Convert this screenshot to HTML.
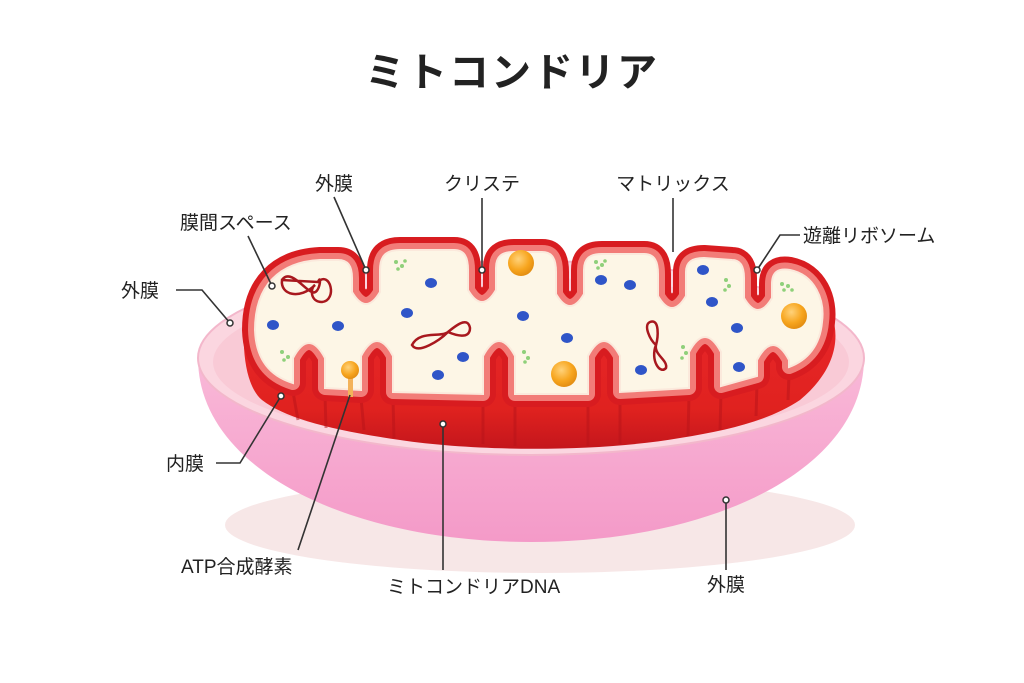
<!DOCTYPE html>
<html><head><meta charset="utf-8"><style>
html,body{margin:0;padding:0;background:#fff;}
svg{display:block;}
text{font-family:"Liberation Sans","Noto Sans CJK JP",sans-serif;fill:#222;}
</style></head><body>
<svg width="1024" height="683" viewBox="0 0 1024 683" xmlns="http://www.w3.org/2000/svg">
<defs>
<linearGradient id="dish" x1="0" y1="0" x2="0" y2="1">
<stop offset="0" stop-color="#f9b9d8"/><stop offset="1" stop-color="#f49ac8"/></linearGradient>
<linearGradient id="red" x1="0" y1="0" x2="0" y2="1">
<stop offset="0" stop-color="#e8262a"/><stop offset="0.7" stop-color="#e0221f"/><stop offset="1" stop-color="#c4161c"/></linearGradient>
<radialGradient id="orb" cx="0.4" cy="0.35" r="0.7">
<stop offset="0" stop-color="#ffd27a"/><stop offset="0.6" stop-color="#f7a51e"/><stop offset="1" stop-color="#e08a10"/></radialGradient>
<path id="m" d="M255,330 C255,285 280,262 320,260 L338,260 C348,260 352,266 352,278 L352,292 Q366,316 380,292 L380,270 C380,256 386,250 400,250 L454,250 C465,250 468,258 468,270 L468,290 Q482,314 496,290 L496,268 C496,256 502,252 514,252 L542,252 C553,252 556,260 556,272 L556,294 Q570,318 584,294 L584,270 C584,258 590,254 602,254 L644,254 C655,254 658,262 658,274 L658,296 Q672,320 686,296 L686,272 C686,262 692,258 704,258 L732,260 C741,260 744,268 744,278 L744,298 Q758,322 772,298 L772,284 C772,272 778,268 790,270 C815,275 825,300 822,322 C820,345 808,360 789,367 L789,360 Q773,330 757,360 L757,376 L721,386 L721,352 Q705,322 689,352 L689,388 L620,392 L620,356 Q604,326 588,356 L588,394 L515,394 L515,356 Q499,326 483,356 L483,394 L393,392 L393,356 Q377,326 361,356 L361,390 L325,388 L325,358 Q309,328 293,358 L293,383 C270,376 256,360 255,330 Z"/>
</defs>
<text x="512" y="86" text-anchor="middle" font-size="40" font-weight="bold" letter-spacing="2">ミトコンドリア</text>

<ellipse cx="540" cy="525" rx="315" ry="48" fill="#f7e7e7"/>
<path d="M198,358 C198,470 350,542 531,542 C712,542 864,470 864,358 Z" fill="url(#dish)"/>
<ellipse cx="531" cy="358" rx="333" ry="97" fill="#fbd6e0" stroke="#f3b7cb" stroke-width="2"/>
<ellipse cx="531" cy="362" rx="318" ry="84" fill="#f9cad6"/>

<path d="M244,320 L832,315 C842,345 830,375 800,400 C770,420 730,430 680,438 C600,452 480,452 400,440 C330,430 285,418 262,400 C248,388 242,360 244,320 Z" fill="url(#red)"/>
<g stroke="#b8141a" stroke-width="3" fill="none" opacity="0.5">
<path d="M293,392 L298,420"/><path d="M325,396 L326,428"/><path d="M361,398 L364,430"/><path d="M393,400 L394,438"/><path d="M483,402 L483,444"/><path d="M515,402 L515,446"/><path d="M588,402 L588,446"/><path d="M620,400 L620,444"/><path d="M689,396 L688,436"/><path d="M721,394 L720,430"/><path d="M757,384 L756,416"/><path d="M789,375 L788,400"/>
</g>

<use href="#m" fill="none" stroke="#d81c20" stroke-width="26" stroke-linejoin="round"/>
<use href="#m" fill="none" stroke="#f27c78" stroke-width="14" stroke-linejoin="round"/>
<use href="#m" fill="#fdf6e6" stroke="#fbe9dc" stroke-width="2"/>

<g fill="#2f55c8">
<ellipse cx="431" cy="283" rx="6" ry="5"/><ellipse cx="273" cy="325" rx="6" ry="5"/><ellipse cx="338" cy="326" rx="6" ry="5"/><ellipse cx="407" cy="313" rx="6" ry="5"/><ellipse cx="463" cy="357" rx="6" ry="5"/><ellipse cx="438" cy="375" rx="6" ry="5"/><ellipse cx="523" cy="316" rx="6" ry="5"/><ellipse cx="567" cy="338" rx="6" ry="5"/><ellipse cx="601" cy="280" rx="6" ry="5"/><ellipse cx="630" cy="285" rx="6" ry="5"/><ellipse cx="703" cy="270" rx="6" ry="5"/><ellipse cx="712" cy="302" rx="6" ry="5"/><ellipse cx="737" cy="328" rx="6" ry="5"/><ellipse cx="739" cy="367" rx="6" ry="5"/><ellipse cx="641" cy="370" rx="6" ry="5"/>
</g>
<circle cx="521" cy="263" r="13" fill="url(#orb)"/>
<circle cx="564" cy="374" r="13" fill="url(#orb)"/>
<circle cx="794" cy="316" r="13" fill="url(#orb)"/>
<rect x="348" y="375" width="5" height="22" fill="#f3b35a"/>
<circle cx="350" cy="370" r="9" fill="url(#orb)"/>
<g fill="none" stroke="#a8181e" stroke-width="2.5">
<path d="M282,280 C290,268 305,290 312,292 C320,296 322,272 318,282 M318,282 C330,270 338,300 322,302 C310,302 310,288 315,285 C300,300 280,295 282,280 Z"/>
<path d="M412,345 C420,330 440,338 448,332 C460,322 468,318 470,328 C470,340 455,335 448,332 C440,340 418,355 412,345 Z"/>
<path d="M650,322 C660,318 658,338 656,345 C654,355 668,360 666,368 C660,375 650,360 656,345 C650,340 643,325 650,322 Z"/>
</g>
<g fill="#8fd07a">
<circle cx="396" cy="262" r="2"/><circle cx="402" cy="266" r="2"/><circle cx="398" cy="269" r="1.8"/><circle cx="405" cy="261" r="1.8"/>
<circle cx="282" cy="352" r="2"/><circle cx="288" cy="357" r="2"/><circle cx="284" cy="360" r="1.8"/>
<circle cx="596" cy="262" r="2"/><circle cx="602" cy="265" r="2"/><circle cx="598" cy="268" r="1.8"/><circle cx="605" cy="261" r="1.8"/>
<circle cx="524" cy="352" r="2"/><circle cx="528" cy="358" r="2"/><circle cx="525" cy="362" r="1.8"/>
<circle cx="683" cy="347" r="2"/><circle cx="686" cy="353" r="2"/><circle cx="682" cy="358" r="1.8"/>
<circle cx="726" cy="280" r="2"/><circle cx="729" cy="286" r="2"/><circle cx="725" cy="290" r="1.8"/>
<circle cx="782" cy="284" r="2"/><circle cx="788" cy="286" r="2"/><circle cx="784" cy="290" r="1.8"/><circle cx="792" cy="290" r="1.8"/>
</g>

<g stroke="#333" stroke-width="1.6" fill="none">
<path d="M334,197 L366,270"/>
<path d="M482,198 L482,270"/>
<path d="M673,198 L673,252"/>
<path d="M800,235 L780,235 L757,270"/>
<path d="M248,236 L272,286"/>
<path d="M176,290 L202,290 L230,323"/>
<path d="M216,463 L240,463 L281,396"/>
<path d="M298,550 L350,395"/>
<path d="M443,424 L443,570"/>
<path d="M726,570 L726,500"/>
</g>
<g fill="#fff" stroke="#333" stroke-width="1.5">
<circle cx="366" cy="270" r="3"/><circle cx="482" cy="270" r="3"/><circle cx="757" cy="270" r="3"/><circle cx="272" cy="286" r="3"/><circle cx="230" cy="323" r="3"/><circle cx="281" cy="396" r="3"/><circle cx="443" cy="424" r="3"/><circle cx="726" cy="500" r="3"/>
</g>

<g font-size="19">
<text x="334" y="190" text-anchor="middle">外膜</text>
<text x="482" y="190" text-anchor="middle">クリステ</text>
<text x="673" y="190" text-anchor="middle">マトリックス</text>
<text x="803" y="242">遊離リボソーム</text>
<text x="180" y="229">膜間スペース</text>
<text x="121" y="297">外膜</text>
<text x="166" y="470">内膜</text>
<text x="181" y="573">ATP合成酵素</text>
<text x="387" y="593">ミトコンドリアDNA</text>
<text x="726" y="591" text-anchor="middle">外膜</text>
</g>
</svg>
</body></html>
